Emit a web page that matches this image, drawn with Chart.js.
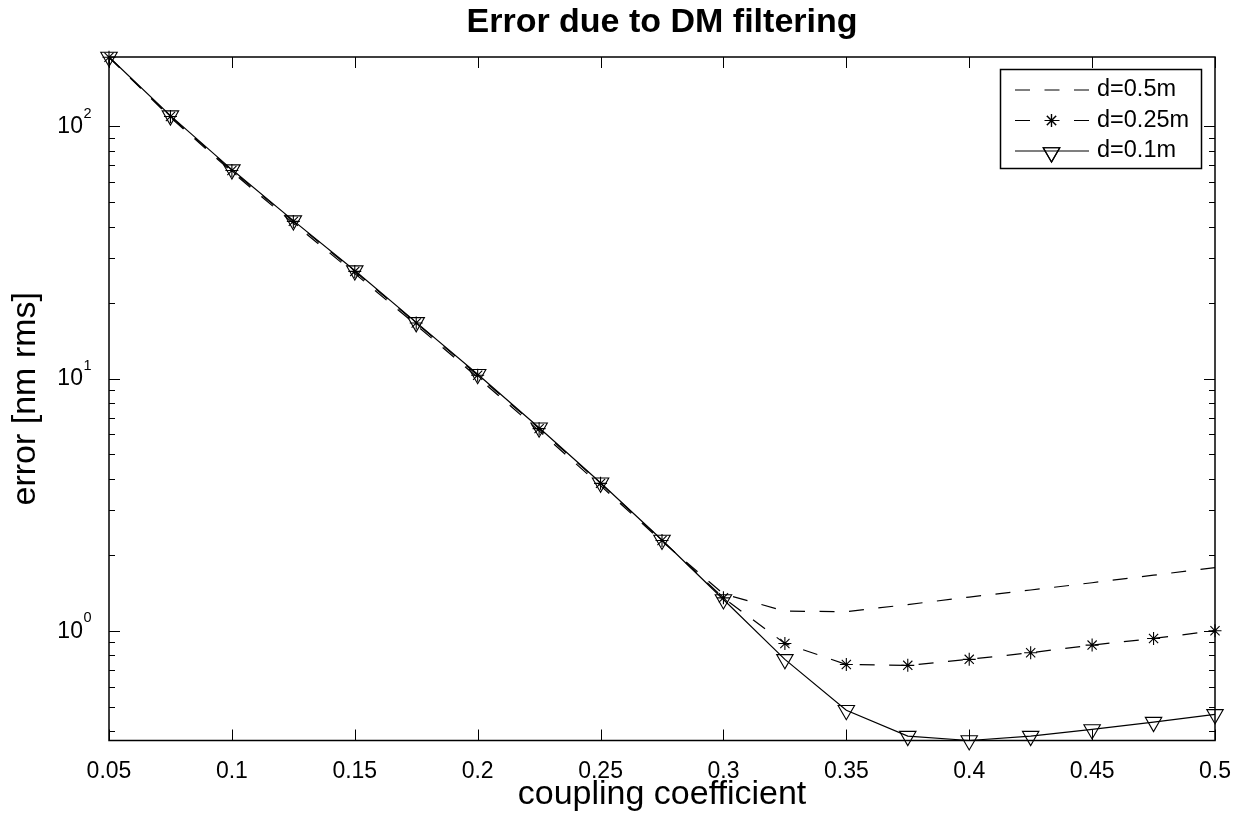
<!DOCTYPE html>
<html>
<head>
<meta charset="utf-8">
<script src="https://cdn.jsdelivr.net/npm/chart.js@4.4.0/dist/chart.umd.min.js"></script>
<style>
html,body{margin:0;padding:0;background:#fff;overflow:hidden}
#wrap{width:1243px;height:815px;position:relative}
</style>
</head>
<body>
<div id="wrap"><canvas id="c" width="1243" height="815"></canvas></div>
<script>
// ---- data ----
const chartTitle = 'Error due to DM filtering';
const xAxisTitle = 'coupling coefficient';
const yAxisTitle = 'error [nm rms]';
const couplingCoefficient = [0.05, 0.075, 0.1, 0.125, 0.15, 0.175, 0.2, 0.225, 0.25, 0.275, 0.3, 0.325, 0.35, 0.375, 0.4, 0.425, 0.45, 0.475, 0.5];
const seriesNames = ['d=0.5m', 'd=0.25m', 'd=0.1m'];
const errorD05  = [188, 108.5, 66, 41.3, 26.1, 16.3, 10.1, 6.2, 3.76, 2.26, 1.40, 1.196, 1.19, 1.27, 1.36, 1.45, 1.55, 1.66, 1.78];
const errorD025 = [188, 109.5, 66.8, 42, 26.6, 16.6, 10.3, 6.33, 3.84, 2.28, 1.35, 0.89, 0.735, 0.729, 0.77, 0.818, 0.877, 0.932, 1.0];
const errorD01  = [188.4, 110.3, 67.4, 42.3, 26.8, 16.7, 10.4, 6.38, 3.86, 2.29, 1.33, 0.77, 0.484, 0.382, 0.367, 0.382, 0.406, 0.434, 0.466];
const xTicks = [0.05, 0.1, 0.15, 0.2, 0.25, 0.3, 0.35, 0.4, 0.45, 0.5];
const xTickLabels = ['0.05', '0.1', '0.15', '0.2', '0.25', '0.3', '0.35', '0.4', '0.45', '0.5'];
const yMajorTicks = [1, 10, 100];
const yMajorBase = ['10', '10', '10'];
const yMajorExponents = ['0', '1', '2'];
const yMinorTicks = [0.4, 0.5, 0.6, 0.7, 0.8, 0.9, 2, 3, 4, 5, 6, 7, 8, 9, 20, 30, 40, 50, 60, 70, 80, 90];

// ---- styling ----
const FONT = '"Liberation Sans", Arial, Helvetica, sans-serif';
Chart.defaults.font.family = FONT;
Chart.defaults.color = '#000';

const toPoints = (ys) => couplingCoefficient.map((x, i) => ({ x: x, y: ys[i] }));
const allValues = errorD05.concat(errorD025, errorD01);
const yMin = Math.min.apply(null, allValues);
const yMax = Math.max.apply(null, allValues);

const DASH = [15, 14.5];
const LINE_W = 1.2;

function drawMarker(ctx, style, x, y, r) {
  if (Chart.helpers && Chart.helpers.drawPoint) {
    Chart.helpers.drawPoint(ctx, { pointStyle: style.pointStyle, rotation: style.rotation || 0, radius: r, borderWidth: 1 }, x, y);
    ctx.stroke();
  }
}

const matlabAxes = {
  id: 'matlabAxes',
  afterDatasetsDraw(chart) {
    const { ctx, chartArea: a, scales } = chart;
    const xs = scales.x, ys = scales.y;
    ctx.save();
    ctx.strokeStyle = '#000';
    ctx.lineWidth = 1;
    ctx.setLineDash([]);
    ctx.beginPath();
    xTicks.forEach(v => {
      const px = Math.round(xs.getPixelForValue(v)) + 0.5;
      ctx.moveTo(px, a.bottom); ctx.lineTo(px, a.bottom - 11);
      ctx.moveTo(px, a.top); ctx.lineTo(px, a.top + 11);
    });
    yMajorTicks.forEach(v => {
      const py = Math.round(ys.getPixelForValue(v)) + 0.5;
      ctx.moveTo(a.left, py); ctx.lineTo(a.left + 11, py);
      ctx.moveTo(a.right, py); ctx.lineTo(a.right - 11, py);
    });
    yMinorTicks.forEach(v => {
      const py = Math.round(ys.getPixelForValue(v)) + 0.5;
      ctx.moveTo(a.left, py); ctx.lineTo(a.left + 6, py);
      ctx.moveTo(a.right, py); ctx.lineTo(a.right - 6, py);
    });
    ctx.stroke();
    ctx.lineWidth = 1.5;
    ctx.strokeRect(a.left, a.top, a.right - a.left, a.bottom - a.top);
    ctx.restore();
  },
  afterDraw(chart) {
    const { ctx, chartArea: a, scales } = chart;
    const ys = scales.y;
    ctx.save();
    ctx.fillStyle = '#000';
    // title
    ctx.font = 'bold 34px ' + FONT;
    ctx.textAlign = 'center';
    ctx.textBaseline = 'middle';
    ctx.fillText(chartTitle, (a.left + a.right) / 2, 22.5);
    // y tick labels with superscript exponent
    yMajorTicks.forEach((v, i) => {
      const py = ys.getPixelForValue(v);
      ctx.font = '14.5px ' + FONT;
      const we = ctx.measureText(yMajorExponents[i]).width;
      const right = 91.5;
      ctx.textAlign = 'left';
      ctx.textBaseline = 'alphabetic';
      ctx.fillText(yMajorExponents[i], right - we, py - 8.5);
      ctx.font = '23px ' + FONT;
      ctx.textAlign = 'right';
      ctx.textBaseline = 'middle';
      ctx.fillText(yMajorBase[i], right - we - 0.5, py + 0.5);
    });
    // legend
    const lx = 1000.5, ly = 69.5, lw = 201, lh = 99;
    ctx.fillStyle = '#fff';
    ctx.fillRect(lx, ly, lw, lh);
    ctx.strokeStyle = '#000';
    ctx.lineWidth = 1.5;
    ctx.strokeRect(lx, ly, lw, lh);
    const rows = [90, 120.5, 151];
    chart.data.datasets.forEach((ds, i) => {
      const yRow = rows[i];
      ctx.strokeStyle = '#000';
      ctx.lineWidth = LINE_W;
      ctx.setLineDash(ds.borderDash || []);
      ctx.beginPath();
      ctx.moveTo(1015, yRow); ctx.lineTo(1089, yRow);
      ctx.stroke();
      ctx.setLineDash([]);
      if (ds.pointRadius > 0) {
        ctx.fillStyle = 'rgba(0,0,0,0)';
        drawMarker(ctx, { pointStyle: ds.pointStyle, rotation: ds.pointRotation }, 1051.5, yRow + (ds.pointStyle === 'triangle' ? 1.5 : 0), ds.pointRadius);
      }
      ctx.fillStyle = '#000';
      ctx.font = '23.5px ' + FONT;
      ctx.textAlign = 'left';
      ctx.textBaseline = 'middle';
      ctx.fillText(ds.label, 1097, yRow);
    });
    ctx.restore();
  }
};

new Chart(document.getElementById('c'), {
  type: 'line',
  data: {
    datasets: [
      {
        label: seriesNames[0], data: toPoints(errorD05),
        borderColor: '#000', borderWidth: LINE_W, borderDash: DASH,
        pointRadius: 0, fill: false, tension: 0, clip: false
      },
      {
        label: seriesNames[1], data: toPoints(errorD025),
        borderColor: '#000', borderWidth: LINE_W, borderDash: DASH,
        pointStyle: 'star', pointRadius: 6.5, pointBorderWidth: 1.1,
        pointBorderColor: '#000', pointBackgroundColor: 'rgba(0,0,0,0)',
        fill: false, tension: 0, clip: false
      },
      {
        label: seriesNames[2], data: toPoints(errorD01),
        borderColor: '#000', borderWidth: LINE_W,
        pointStyle: 'triangle', pointRotation: 180, pointRadius: 9.5, pointBorderWidth: 1.1,
        pointBorderColor: '#000', pointBackgroundColor: 'rgba(0,0,0,0)',
        fill: false, tension: 0, clip: false
      }
    ]
  },
  options: {
    responsive: false,
    animation: false,
    devicePixelRatio: 1,
    layout: { padding: { top: 57, left: 0, right: 28, bottom: 0 } },
    plugins: { legend: { display: false }, title: { display: false }, tooltip: { enabled: false } },
    scales: {
      x: {
        type: 'linear', min: 0.05, max: 0.5,
        grid: { display: false }, border: { display: false },
        afterBuildTicks: (s) => { s.ticks = xTicks.map(v => ({ value: v })); },
        afterFit: (s) => { s.height = 74.5; },
        ticks: {
          autoSkip: false, maxRotation: 0, padding: 9.5,
          font: { size: 23, family: FONT }, color: '#000',
          callback: (v, i) => xTickLabels[i]
        },
        title: { display: true, text: xAxisTitle, font: { size: 34, family: FONT }, color: '#000', padding: { top: 0, bottom: 0.4 } }
      },
      y: {
        type: 'logarithmic', min: yMin, max: yMax,
        grid: { display: false }, border: { display: false },
        afterBuildTicks: (s) => { s.ticks = yMajorTicks.map(v => ({ value: v })); },
        afterFit: (s) => { s.width = 109; },
        ticks: { display: false },
        title: { display: true, text: yAxisTitle, font: { size: 34, family: FONT }, color: '#000', padding: { top: 5.2, bottom: 0 } }
      }
    }
  },
  plugins: [matlabAxes]
});
</script>
</body>
</html>
